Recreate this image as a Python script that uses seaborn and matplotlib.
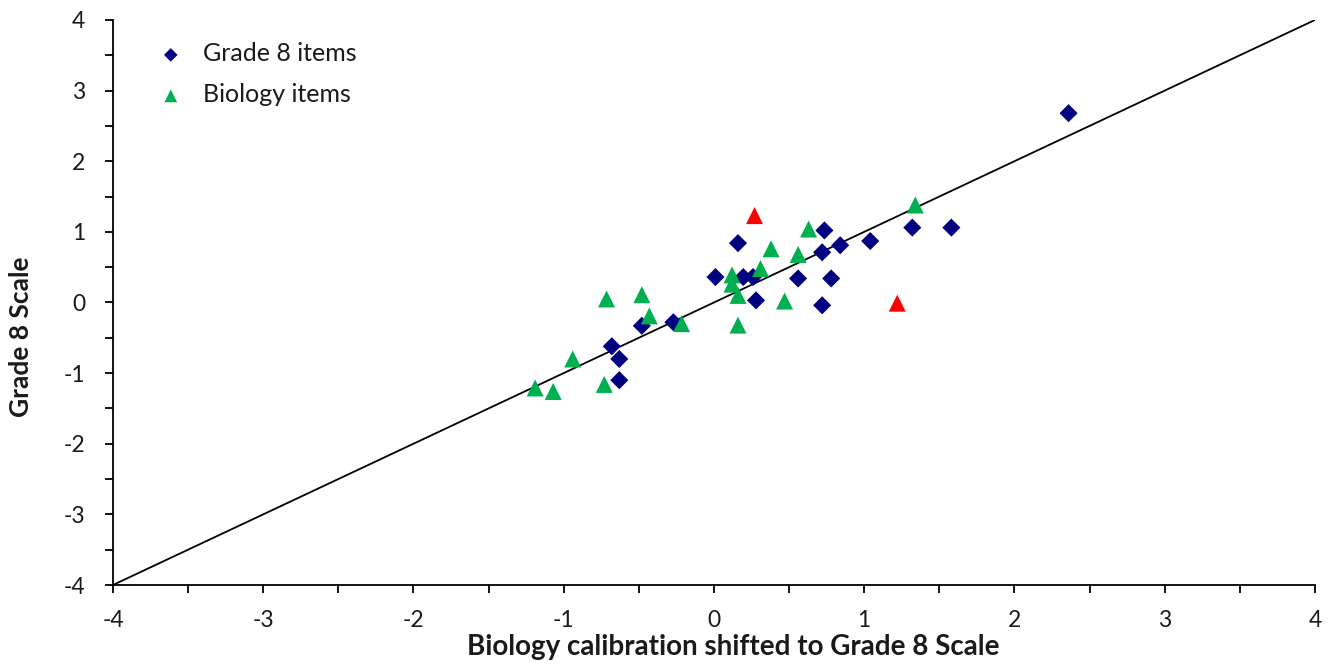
import matplotlib
matplotlib.use("Agg")
import matplotlib.pyplot as plt
import seaborn as sns
import pandas as pd
from matplotlib.ticker import MultipleLocator

# Grade 8 items (navy diamonds)
grade8_x = [0.16, 0.01, 0.195, 0.26, 0.28, -0.48, -0.27, -0.68, -0.63, -0.63,
            0.56, 0.78, 0.735, 1.32, 1.58, 1.04, 0.84, 0.72, 0.72, 2.36]
grade8_y = [0.84, 0.36, 0.36, 0.36, 0.03, -0.33, -0.28, -0.62, -0.80, -1.10,
            0.34, 0.34, 1.02, 1.06, 1.06, 0.87, 0.81, 0.71, -0.04, 2.68]

# Biology items (green triangles)
bio_x = [0.38, 0.56, 0.12, 0.12, 0.31, 0.16, 0.47, -0.715, -0.48, -0.43,
         -0.215, 0.16, -0.94, -0.73, -1.19, -1.07, 1.34, 0.63]
bio_y = [0.76, 0.68, 0.39, 0.26, 0.48, 0.10, 0.02, 0.05, 0.11, -0.19,
         -0.30, -0.32, -0.80, -1.16, -1.21, -1.26, 1.38, 1.04]

# Flagged biology items (red triangles)
flag_x = [0.27, 1.22]
flag_y = [1.23, -0.01]

identity = [-4, 4]

sns.set_theme(style="white")
plt.rcParams['font.family'] = ['Lato', 'DejaVu Sans']
plt.rcParams['axes.unicode_minus'] = False

fig = plt.figure(figsize=(13.35, 6.65), dpi=100)
ax = fig.add_axes([0.0846, 0.1203, 0.9004, 0.8497])

ax.plot(identity, identity, color="black", lw=1.3, zorder=1)

g8 = pd.DataFrame({"x": grade8_x, "y": grade8_y})
bio = pd.DataFrame({"x": bio_x, "y": bio_y})
flag = pd.DataFrame({"x": flag_x, "y": flag_y})

sns.scatterplot(data=g8, x="x", y="y", marker="D", s=85, color="#000080",
                edgecolor="none", ax=ax, label="Grade 8 items", zorder=3)
sns.scatterplot(data=bio, x="x", y="y", marker="^", s=150, color="#00B050",
                edgecolor="none", ax=ax, label="Biology items", zorder=3)
sns.scatterplot(data=flag, x="x", y="y", marker="^", s=150, color="#FF0000",
                edgecolor="none", ax=ax, zorder=3)

ax.set_xlim(-4, 4)
ax.set_ylim(-4, 4)
ax.xaxis.set_major_locator(MultipleLocator(1))
ax.xaxis.set_minor_locator(MultipleLocator(0.5))
ax.yaxis.set_major_locator(MultipleLocator(1))
ax.yaxis.set_minor_locator(MultipleLocator(0.5))
ax.tick_params(axis="both", which="both", direction="out", length=6, width=1.3,
               color="black", labelsize=16.5, labelcolor="#1a1a1a")
ax.tick_params(axis="x", which="major", pad=12)
ax.tick_params(axis="y", which="major", pad=14)
ax.tick_params(axis="x", which="both", bottom=True)
ax.tick_params(axis="y", which="both", left=True)

for side in ["top", "right"]:
    ax.spines[side].set_visible(False)
for side in ["left", "bottom"]:
    ax.spines[side].set_color("black")
    ax.spines[side].set_linewidth(1.3)

ax.set_xlabel("Biology calibration shifted to Grade 8 Scale", fontsize=20,
              fontweight="bold", color="#1a1a1a")
ax.set_ylabel("Grade 8 Scale", fontsize=19, fontweight="bold", color="#1a1a1a")
ax.xaxis.set_label_coords(0.516, -0.086)
ax.yaxis.set_label_coords(-0.0666, 0.44)

leg = ax.legend(loc="upper left", bbox_to_anchor=(0.019, 1.0), frameon=False,
                fontsize=18, handletextpad=0.8, labelspacing=0.72,
                handlelength=1.0, markerscale=0.75)
for t in leg.get_texts():
    t.set_color("#1a1a1a")

fig.savefig("out.png", dpi=100)
